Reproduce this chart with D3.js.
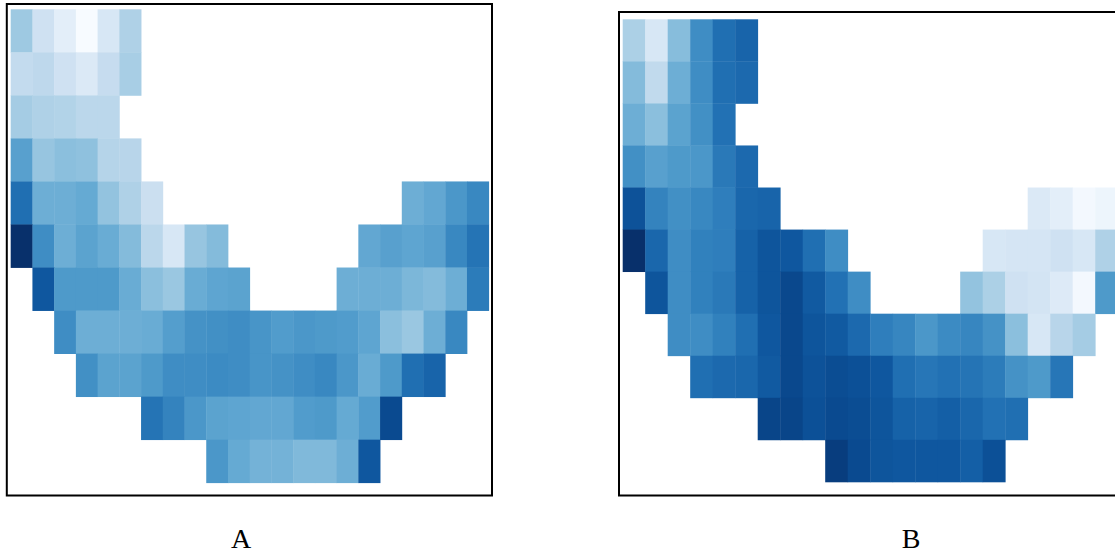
<!DOCTYPE html>
<html>
<head>
<meta charset="utf-8">
<script src="https://cdn.jsdelivr.net/npm/d3@7"></script>
<style>
  html, body { margin: 0; padding: 0; background: #ffffff; }
  svg { display: block; }
</style>
</head>
<body>
<svg id="chart" width="1115" height="554"></svg>
<script>
// Grid dimensions shared by both panels
const rowIds = d3.range(11);
const colIds = d3.range(22);
const panelLabels = ["A", "B"];

// Normalised intensity per cell (0 = lightest, 1 = darkest); null = no data
const _ = null;
const gridA = [
  [0.37,0.20,0.10,0.00,0.16,0.32,_,_,_,_,_,_,_,_,_,_,_,_,_,_,_,_],
  [0.25,0.27,0.20,0.14,0.24,0.34,_,_,_,_,_,_,_,_,_,_,_,_,_,_,_,_],
  [0.35,0.32,0.31,0.28,0.28,_,_,_,_,_,_,_,_,_,_,_,_,_,_,_,_,_],
  [0.56,0.39,0.42,0.41,0.30,0.29,_,_,_,_,_,_,_,_,_,_,_,_,_,_,_,_],
  [0.76,0.50,0.50,0.52,0.40,0.32,0.22,_,_,_,_,_,_,_,_,_,_,_,0.50,0.53,0.60,0.66],
  [1.00,0.64,0.50,0.55,0.51,0.44,0.28,0.16,0.39,0.44,_,_,_,_,_,_,0.53,0.56,0.54,0.56,0.66,0.74],
  [_,0.85,0.59,0.59,0.59,0.51,0.42,0.38,0.51,0.54,0.55,_,_,_,_,0.50,0.50,0.50,0.46,0.44,0.50,0.71],
  [_,_,0.64,0.50,0.50,0.50,0.51,0.57,0.62,0.63,0.64,0.61,0.58,0.60,0.59,0.58,0.54,0.42,0.38,0.50,0.66,_],
  [_,_,_,0.63,0.55,0.55,0.59,0.64,0.64,0.65,0.64,0.61,0.62,0.64,0.66,0.60,0.51,0.59,0.76,0.80,_,_],
  [_,_,_,_,_,_,0.74,0.68,0.60,0.55,0.54,0.53,0.53,0.58,0.59,0.52,0.58,0.90,_,_,_,_],
  [_,_,_,_,_,_,_,_,_,0.60,0.52,0.48,0.48,0.45,0.45,0.50,0.85,_,_,_,_,_]
];
const gridB = [
  [0.33,0.16,0.43,0.64,0.76,0.80,_,_,_,_,_,_,_,_,_,_,_,_,_,_,_,_],
  [0.44,0.26,0.50,0.64,0.76,0.78,_,_,_,_,_,_,_,_,_,_,_,_,_,_,_,_],
  [0.50,0.42,0.55,0.63,0.75,_,_,_,_,_,_,_,_,_,_,_,_,_,_,_,_,_],
  [0.63,0.56,0.59,0.60,0.72,0.78,_,_,_,_,_,_,_,_,_,_,_,_,_,_,_,_],
  [0.87,0.68,0.63,0.66,0.70,0.79,0.80,_,_,_,_,_,_,_,_,_,_,_,0.14,0.10,0.02,0.05],
  [1.00,0.79,0.64,0.69,0.70,0.81,0.86,0.85,0.76,0.64,_,_,_,_,_,_,0.16,0.17,0.17,0.20,0.16,0.32],
  [_,0.86,0.64,0.69,0.72,0.81,0.86,0.91,0.84,0.75,0.64,_,_,_,_,0.40,0.33,0.20,0.18,0.13,0.02,0.59],
  [_,_,0.64,0.64,0.69,0.76,0.85,0.91,0.86,0.84,0.78,0.70,0.67,0.60,0.65,0.67,0.62,0.42,0.16,0.29,0.35,_],
  [_,_,_,0.76,0.78,0.79,0.84,0.91,0.87,0.89,0.88,0.85,0.76,0.73,0.75,0.74,0.71,0.62,0.59,0.73,_,_],
  [_,_,_,_,_,_,0.92,0.92,0.88,0.90,0.89,0.86,0.81,0.80,0.82,0.79,0.75,0.76,_,_,_,_],
  [_,_,_,_,_,_,_,_,_,0.95,0.90,0.86,0.85,0.85,0.85,0.82,0.88,_,_,_,_,_]
];

const svg = d3.select("#chart");
const color = d3.scaleSequential(d3.interpolateBlues).domain([0, 1]);

const panels = [
  { grid: gridA, label: panelLabels[0],
    frame: { x0: 6.8, y0: 4, x1: 492, y1: 495.5 },
    cells: { x0: 10.7, x1: 488.7, y0: 9.3, y1: 482.7 },
    labelX: 241 },
  { grid: gridB, label: panelLabels[1],
    frame: { x0: 619, y0: 12, x1: 1122, y1: 495.5 },
    cells: { x0: 622.7, x1: 1117.7, y0: 19.3, y1: 481.9 },
    labelX: 911 }
];

panels.forEach(p => {
  const x = d3.scaleBand().domain(colIds).range([p.cells.x0, p.cells.x1]).padding(0);
  const y = d3.scaleBand().domain(rowIds).range([p.cells.y0, p.cells.y1]).padding(0);

  const cells = [];
  p.grid.forEach((row, r) => row.forEach((v, c) => {
    if (v !== null) cells.push({ r, c, v });
  }));

  const g = svg.append("g");
  g.selectAll("rect.cell")
    .data(cells)
    .join("rect")
    .attr("class", "cell")
    .attr("x", d => x(d.c))
    .attr("y", d => y(d.r))
    .attr("width", x.bandwidth() + 0.4)
    .attr("height", y.bandwidth() + 0.4)
    .attr("fill", d => color(d.v));

  g.append("rect")
    .attr("x", p.frame.x0)
    .attr("y", p.frame.y0)
    .attr("width", p.frame.x1 - p.frame.x0)
    .attr("height", p.frame.y1 - p.frame.y0)
    .attr("fill", "none")
    .attr("stroke", "#000")
    .attr("stroke-width", 2);

  svg.append("text")
    .attr("x", p.labelX)
    .attr("y", 547.5)
    .attr("text-anchor", "middle")
    .attr("font-family", "'Liberation Serif', 'Times New Roman', serif")
    .attr("font-size", 28)
    .attr("fill", "#000")
    .text(p.label);
});
</script>
</body>
</html>
